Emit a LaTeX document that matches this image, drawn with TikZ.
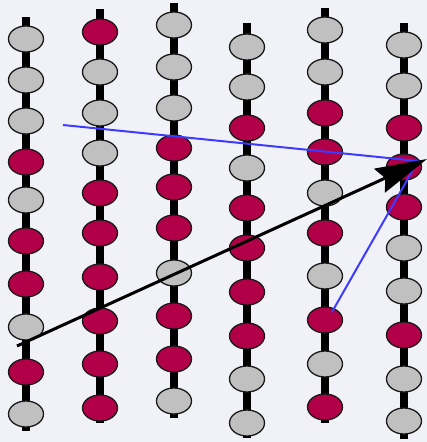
\documentclass[tikz,border=0pt]{standalone}
\usetikzlibrary{arrows.meta,shapes.geometric}
\definecolor{bg}{RGB}{241,241,248}
\definecolor{beadred}{RGB}{178,0,72}
\definecolor{beadgray}{RGB}{192,192,192}
\definecolor{lineblue}{RGB}{60,60,255}
\begin{document}
\begin{tikzpicture}[x=1pt,y=-1pt,
  bead/.style={ellipse, draw=black!90, line width=1.3pt, minimum width=35pt, minimum height=26pt, inner sep=0pt},
  gbead/.style={bead, fill=beadgray},
  rbead/.style={bead, fill=beadred},
  rod/.style={line width=7.5pt},
  guide/.style={draw=lineblue, line width=2pt},
  vec/.style={line width=3pt, -{Stealth[length=52pt,width=26pt,inset=6pt]}}]
\fill[bg] (0,0) rectangle (427,442);
\useasboundingbox (0,0) rectangle (427,442);
% rods
\draw[rod] (26,17) -- (26,431);
\draw[rod] (100,9) -- (100,423);
\draw[rod] (174,3) -- (174,418);
\draw[rod] (247,23) -- (247,438);
\draw[rod] (325,8) -- (325,423);
\draw[rod] (404,23) -- (404,439);
% beads
\foreach \y/\s [count=\i] in {39/gbead,80/gbead,121/gbead,162/rbead,200/gbead,241/rbead,284/rbead,327/gbead,372/rbead,414/gbead}
  \node[\s] (a\i) at (26,\y) {};
\foreach \y/\s [count=\i] in {32/rbead,72/gbead,113/gbead,153/gbead,193/rbead,233/rbead,277/rbead,321/rbead,364/rbead,408/rbead}
  \node[\s] (b\i) at (100,\y) {};
\foreach \y/\s [count=\i] in {25/gbead,67/gbead,108/gbead,148/rbead,187/rbead,228/rbead,273/gbead,316/rbead,359/rbead,401/gbead}
  \node[\s] (c\i) at (174,\y) {};
\foreach \y/\s [count=\i] in {47/gbead,87/gbead,128/rbead,168/gbead,208/rbead,248/rbead,292/rbead,336/rbead,379/gbead,423/gbead}
  \node[\s] (d\i) at (247,\y) {};
\foreach \y/\s [count=\i] in {30/gbead,72/gbead,113/rbead,152/rbead,193/gbead,233/rbead,276/gbead,320/rbead,364/gbead,407/rbead}
  \node[\s] (e\i) at (325,\y) {};
\foreach \y/\s [count=\i] in {45/gbead,86/gbead,128/rbead,167/rbead,207/rbead,248/gbead,291/gbead,335/rbead,379/gbead,421/gbead}
  \node[\s] (f\i) at (404,\y) {};
% blue guide lines
\coordinate (g1) at (63,125);
\coordinate (gm) at (418,161);
\coordinate (g2) at (332,312);
\draw[guide] (g1) -- (gm) -- (g2);
% black vector
\coordinate (vs) at (17,346);
\coordinate (ve) at (427,159);
\draw[vec] (vs) -- (ve);
\end{tikzpicture}
\end{document}
